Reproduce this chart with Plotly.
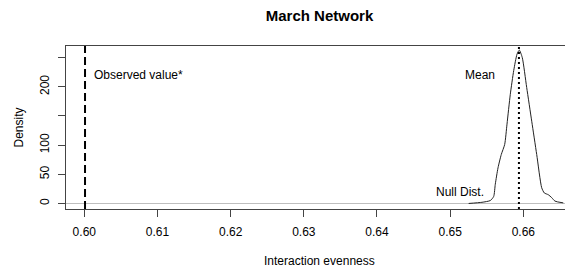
import plotly.graph_objects as go

# Null distribution density
null_x = [0.65253, 0.65435, 0.65549, 0.65595, 0.65617, 0.65654, 0.65699, 0.65745,
          0.65777, 0.65822, 0.65869, 0.65914, 0.65945, 0.65986, 0.66046, 0.66115,
          0.66183, 0.66251, 0.66287, 0.66341, 0.66388, 0.66433, 0.66546]
null_density = [0, 2, 5, 12, 33, 61, 84, 101,
                136, 187, 228, 256, 263, 250, 199, 141,
                84, 27, 18, 15, 10, 4, 1]

observed_value = 0.6001
mean_value = 0.6594

x_ticks = [0.60, 0.61, 0.62, 0.63, 0.64, 0.65, 0.66]
x_tick_labels = ["0.60", "0.61", "0.62", "0.63", "0.64", "0.65", "0.66"]
y_ticks = [0, 50, 100, 150, 200, 250]
y_tick_labels = ["0", "50", "100", "", "200", ""]

title_text = "March Network"
x_title = "Interaction evenness"
y_title = "Density"

FONT = "Liberation Sans, Arial, sans-serif"
AXC = "#444444"

# page has an 8px body margin; figure sized to fit the window
W, H = 565, 265
ML, MR, MT, MB = 58, 0, 38, 64
PW, PH = W - ML - MR, H - MT - MB

fig = go.Figure()
fig.add_trace(go.Scatter(x=null_x, y=null_density, mode="lines",
                         line=dict(color="#222222", width=1, shape="spline", smoothing=0.6),
                         hoverinfo="skip", showlegend=False))

fig.add_vline(x=observed_value, line=dict(color="black", width=2, dash="8px,4px"))
fig.add_vline(x=mean_value, line=dict(color="black", width=2, dash="2px,3px"))

fig.add_annotation(x=0.6011, y=220, text="Observed value*", showarrow=False,
                   xanchor="left", yanchor="middle", font=dict(size=12, color="black", family=FONT))
fig.add_annotation(x=0.6564, y=220, text="Mean", showarrow=False,
                   xanchor="right", yanchor="middle", font=dict(size=12, color="black", family=FONT))
fig.add_annotation(x=0.6549, y=19, text="Null Dist.", showarrow=False,
                   xanchor="right", yanchor="middle", font=dict(size=12, color="black", family=FONT))

# axis titles
fig.add_annotation(x=0.5, xref="paper", y=(H - MB - 253) / PH, yref="paper", text=x_title,
                   showarrow=False, xanchor="center", yanchor="middle",
                   font=dict(size=12, color="black", family=FONT))
fig.add_annotation(x=(10 - ML) / PW, xref="paper", y=0.5, yref="paper",
                   text=y_title, textangle=-90, showarrow=False, xanchor="center", yanchor="middle",
                   font=dict(size=12, color="black", family=FONT))

fig.update_layout(
    width=W, height=H,
    margin=dict(l=ML, r=MR, t=MT, b=MB, autoexpand=False),
    paper_bgcolor="white", plot_bgcolor="white",
    font=dict(family=FONT, size=12, color="black"),
    title=dict(text="<b>" + title_text + "</b>", x=0.5, xref="paper", y=1 - 8 / H,
               yref="container", xanchor="center", yanchor="middle",
               font=dict(size=15, color="black", family=FONT)),
    showlegend=False,
)
fig.update_xaxes(range=[0.59750, 0.66679], tickvals=x_ticks, ticktext=x_tick_labels,
                 ticks="outside", ticklen=7, tickcolor=AXC, tickwidth=1,
                 showline=True, linecolor=AXC, linewidth=1, mirror=True,
                 showgrid=False, zeroline=False, ticklabelstandoff=5, automargin=False)
fig.update_yaxes(range=[-9.5, 270], tickvals=y_ticks, ticktext=y_tick_labels,
                 ticks="outside", ticklen=7, tickcolor=AXC, tickwidth=1, tickangle=-90,
                 showline=True, linecolor=AXC, linewidth=1, mirror=False,
                 showgrid=False, zeroline=True, zerolinecolor="#bebebe", zerolinewidth=1,
                 ticklabelstandoff=4, automargin=False)

fig.write_html("out.html")
